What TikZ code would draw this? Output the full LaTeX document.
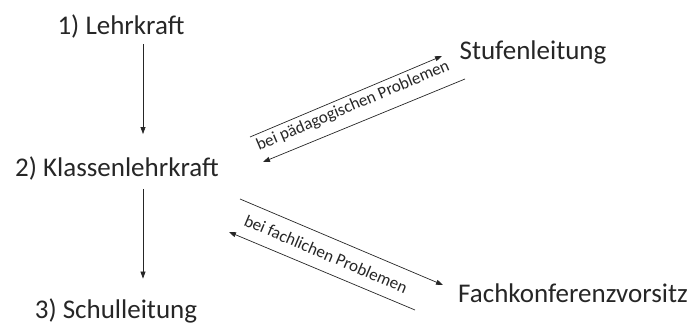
\documentclass[tikz,border=0pt]{standalone}
\usepackage{fontspec}
\setmainfont{Carlito}
\usetikzlibrary{arrows.meta}
\tikzset{
  stelle/.style={inner sep=0pt,text=black!85,font=\fontsize{27}{32}\selectfont},
  hinweis/.style={inner sep=0pt,text=black!85,font=\fontsize{17}{20}\selectfont},
  pfeil/.style={-{Triangle[length=7pt,width=5pt]},line width=0.7pt,black!85}
}

\begin{document}
\begin{tikzpicture}[x=1pt,y=-1pt]
            \useasboundingbox (0,0) rectangle (691,323);

            % Dienstweg
            \node[stelle] (lehrkraft) at (121,27) {1) Lehrkraft};
            \node[stelle] (klassen) at (117,168) {2) Klassenlehrkraft};
            \node[stelle] (leitung) at (116,311) {3) Schulleitung};
            \coordinate (achse) at ([xshift=22pt]lehrkraft.south);
            \draw[pfeil,shorten <=5pt,shorten >=22pt] (achse) -- (achse |- klassen.north);
            \draw[pfeil,shorten <=9pt,shorten >=20pt] (achse |- klassen.south) -- (achse |- leitung.north);

            % Beratung
            \node[stelle] (stufe) at (533,52) {Stufenleitung};
            \node[stelle] (fach) at (573,293) {Fachkonferenzvorsitz};

            % bei paedagogischen Problemen
            \coordinate (s1) at (250,137);
            \coordinate (s2) at (442,56);
            \coordinate (s3) at (465,79);
            \coordinate (s4) at (263,162);
            \draw[pfeil] (s1) -- (s2);
            \draw[pfeil] (s3) -- (s4);
            \node[hinweis,rotate=22.9] (paed) at (353,106) {bei pädagogischen Problemen};

            % bei fachlichen Problemen
            \coordinate (f1) at (240,199);
            \coordinate (f2) at (443,285);
            \coordinate (f3) at (415,310);
            \coordinate (f4) at (229,232);
            \draw[pfeil] (f1) -- (f2);
            \draw[pfeil] (f3) -- (f4);
            \node[hinweis,rotate=-23] (fachl) at (326,254) {bei fachlichen Problemen};
        \end{tikzpicture}
\end{document}
